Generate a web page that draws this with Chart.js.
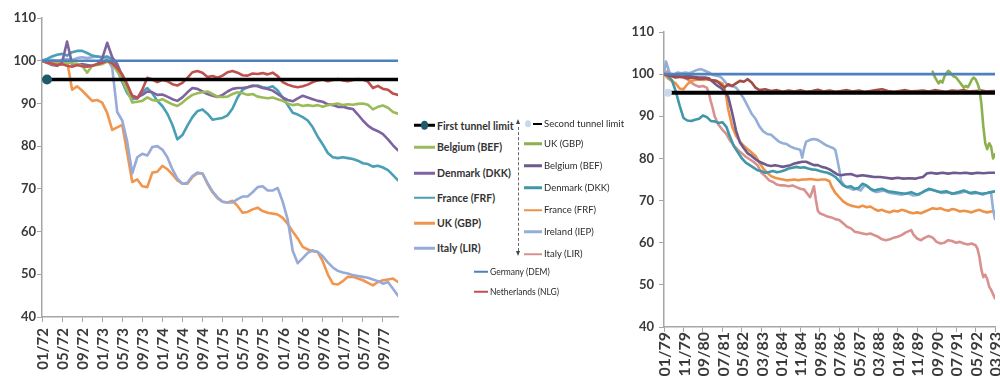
<!DOCTYPE html>
<html>
<head>
<meta charset="utf-8">
<script src="https://cdn.jsdelivr.net/npm/chart.js@4.4.1/dist/chart.umd.min.js"></script>
<style>
  html, body { margin: 0; padding: 0; background: #fff; width: 1000px; height: 377px; overflow: hidden; font-family: Lato, "Open Sans", sans-serif; }
  canvas { position: absolute; top: 0; }
  #snake { left: 0; }
  #erm { left: 620px; }
  .item { position: absolute; white-space: nowrap; line-height: 1; transform: translateY(-50%); display: flex; align-items: center; }
  .sw { display: inline-block; position: relative; }
  .lbl { margin-left: 2px; }
  .big { font-weight: bold; font-size: 10.5px; color: #333; }
  .mid { font-size: 9.5px; color: #2a2a2a; }
  .small { font-size: 8.5px; color: #2a2a2a; }
  .dash { position: absolute; left: 518px; top: 127px; height: 124px; border-left: 1px dashed #666; }
  .arrUp { position: absolute; left: 516px; top: 119px; width: 0; height: 0; border-left: 2.5px solid transparent; border-right: 2.5px solid transparent; border-bottom: 5px solid #444; }
  .arrDn { position: absolute; left: 516px; top: 251px; width: 0; height: 0; border-left: 2.5px solid transparent; border-right: 2.5px solid transparent; border-top: 5px solid #444; }
</style>
</head>
<body>
<canvas id="snake" width="410" height="377"></canvas>
<canvas id="erm" width="380" height="377"></canvas>
<div id="legend"></div>
<script>
// ---------- Snake period, monthly index from 01/72 (0) to 12/77 (71) ----------
const snakeTicks = ['01/72','05/72','09/72','01/73','05/73','09/73','01/74','05/74','09/74','01/75','05/75','09/75','01/76','05/76','09/76','01/77','05/77','09/77'];

const snakeGermany = Array(72).fill(100);
const snakeLimit = [null].concat(Array(71).fill(95.6));

const snakeNetherlands = [100,99.6,99.3,99,99.2,98.8,98.6,99,98.7,98.6,98.8,99.2,99.5,100,99.4,98.3,96.8,94.5,91.8,91.2,93.2,96,95.6,95,95.5,95.2,94.5,94.2,94.8,96,97.3,97.6,97.2,96.2,96.4,96,96.5,97.3,97.6,97.2,96.6,96.5,97,96.9,97.1,96.8,97.2,96.4,95,94.4,94,93.8,94,94.4,95,95.4,95.6,95.2,95.5,95.7,95.4,95.2,95.5,95.7,95.6,95.1,93.6,94.1,93.4,93.2,92.3,92];

const snakeBelgium = [100,99.6,99.2,99.3,99.1,99.6,99.4,99.3,98.8,97.2,98.8,99,99.2,99.8,99.2,97.5,95.5,93,90.2,90.4,90.6,91.4,90.8,90.6,91,90.4,89.8,89.4,90.2,91.2,92,92.4,92.6,92.8,92.2,91.6,91.5,91.6,92.2,92.6,92.4,92,92.2,91.6,91.4,91.2,91.4,91,90.6,90,89.6,89.8,89.4,89.6,89.4,89.6,89.2,89.6,89.8,90,89.6,89.8,89.7,89.9,90,89.7,88.6,89.2,89.5,89,88,87.6];

const snakeDenmark = [100,99.5,99,98.8,99.5,104.5,99.2,99,99.2,99,98.8,99.2,100.5,104.2,100.8,99.2,96.5,93.5,91.8,91.4,92,92.8,92.6,92,92.1,91.6,91,90.6,91.4,92.6,93.6,93.4,92.8,92.2,91.8,91.5,92,92.8,93.4,93.6,93.6,93.8,94.2,94,93.6,93.4,93,92.2,91.4,90.8,90.5,91.2,91.8,91.4,91,90.6,90.4,89.8,89.6,89.2,89.2,88.9,88.7,87.4,86,84.8,84,83.5,82.8,81.6,80.2,79];

const snakeFrance = [100,100.4,101,101.4,101.6,101.2,102,102.3,102.3,101.8,101.2,101,100.8,101,100.3,98,95,92.4,91,91.2,92.6,93.6,92.4,90.6,89.4,87.6,85,81.6,82.6,84.8,86.8,88.2,88.6,87.6,86.2,86.4,86.6,87.2,88.8,91.4,93.2,93.8,94,94.2,93.8,93.6,94,93,91.4,89.6,87.8,87.4,86.8,86,84.4,82.2,80.4,78.4,77.4,77.2,77.4,77.2,77,76.6,76,75.8,75.2,75.4,75,74.4,73.2,72];

const snakeUK = [100,99.6,99.8,99.6,99.8,100,93.2,94,93,91.8,90.6,90.8,90.2,87.8,83.8,84.4,85,78.4,71.6,72.2,70.6,70.4,73.8,74,75.4,74.6,73.4,72,71.2,71.2,72.8,73.6,73.6,71.2,69.2,67.8,67,66.8,67.2,66,64.4,64.6,65.2,65.6,64.8,64.4,64.2,64,63.2,61.8,60,58.4,56.4,55.8,55.4,55.2,53,50,47.8,47.6,48.4,49.4,49.4,49,48.6,48,47.4,48.2,48.6,48.8,49,48.2];

const snakeItaly = [100,99.8,100.2,100,100.2,100.4,100.2,100.6,100.8,100.6,100.8,101,100.8,100.4,98.4,88,86,81,73.6,77.4,78.2,77.8,79.8,80,79.2,77.4,74.6,72.4,71.2,71.4,73,73.8,73.6,71.4,69.4,68,67,66.8,66.8,67.6,68.2,68.2,69.2,70.4,70.6,69.6,69.6,70.2,67,62.8,55.5,52.6,53.8,55,55.6,55.2,54.2,52.8,51.6,50.8,50.4,50.2,49.8,49.6,49.4,49.2,48.8,48.4,47.8,48.2,46.6,45];

// ---------- EMS period, [month index from 01/79, value] ----------
const ermTicks = ['01/79','11/79','09/80','07/81','05/82','03/83','01/84','11/84','09/85','07/86','05/87','03/88','01/89','11/89','09/90','07/91','05/92','03/93'];

const ermGermany = [[0,100],[170,100]];
const ermLimit = [[2,95.6],[170,95.6]];

const ermNetherlands = [[0,100],[3,99.6],[6,99.2],[9,99.4],[12,99],[15,99.2],[18,98.8],[21,99],[24,98.6],[27,98.4],[29,97.6],[31,96.8],[33,97.6],[35,97.2],[37,97.8],[39,98.4],[41,98.2],[43,98.8],[45,98],[47,96.8],[49,96.2],[52,96.4],[55,96],[58,96.2],[61,95.8],[64,96.1],[67,95.9],[70,96.2],[73,95.8],[76,96],[79,96.3],[82,95.9],[85,96.1],[88,95.8],[91,96],[94,96.2],[97,95.9],[100,96.1],[103,95.8],[106,96],[109,96.2],[112,96.4],[115,96],[118,95.8],[121,96],[124,96.2],[127,95.9],[130,96],[133,96.1],[136,95.9],[139,96.2],[142,96],[145,95.8],[148,96.1],[151,96],[154,96.2],[157,95.9],[160,96],[163,96.1],[166,95.9],[170,96]];

const ermUK = [[138,100.6],[139,99.4],[140,98.6],[141,97.8],[142,98.4],[143,98],[144,99.4],[145,100.2],[146,100.8],[147,100.4],[148,99.8],[149,99.4],[150,99.2],[151,98.6],[152,98],[153,97.4],[154,96.8],[155,97.2],[156,96.9],[157,97.6],[158,98.6],[159,99.2],[160,98.8],[161,97.8],[162,96.4],[163,93],[164,87.6],[165,83.6],[166,82.2],[167,83.6],[168,82.8],[169,80],[170,81]];

const ermBelgium = [[0,100],[3,99.8],[6,99.6],[9,99.4],[12,99.6],[15,99.4],[18,99.2],[21,99.2],[23,99],[25,98.2],[27,97.4],[29,96.8],[31,96],[33,94.6],[35,90.8],[37,86.6],[39,83.8],[41,82.4],[43,81.2],[45,80.6],[47,79.8],[49,79.2],[51,78.8],[53,78.4],[55,78.2],[57,78.4],[59,78.2],[61,78],[63,78.2],[65,78.4],[67,78.8],[69,79],[71,79.2],[73,79.2],[75,78.8],[77,78.4],[79,78.4],[81,78],[83,77.8],[85,77.4],[87,76.8],[89,76.2],[91,76],[93,76.2],[96,76.3],[99,75.8],[102,76],[105,75.8],[108,75.6],[111,75.6],[114,75.4],[117,75.2],[120,75.4],[123,75.2],[126,75.3],[129,75.2],[131,75.4],[133,75.6],[135,76.4],[137,76.6],[140,76.4],[143,76.6],[146,76.4],[149,76.6],[152,76.5],[155,76.6],[158,76.4],[161,76.6],[164,76.5],[167,76.6],[170,76.6]];

const ermDenmark = [[0,100],[2,99.6],[4,98.6],[6,96],[8,92.6],[10,89.6],[12,89],[14,88.9],[16,89.2],[18,89.4],[20,90.2],[22,89.8],[24,88.9],[26,88.8],[28,88.4],[30,88.6],[32,87.5],[34,85],[36,82.8],[38,81.4],[40,80],[42,79],[44,78.4],[46,77.8],[48,77.2],[50,77],[52,76.6],[54,76.8],[56,77],[58,76.7],[60,76.9],[62,77.2],[64,77.6],[66,77.8],[68,78],[70,77.8],[72,77.9],[74,77.6],[76,77.4],[78,77.3],[80,77],[82,76.8],[84,76.6],[86,76.2],[88,75.6],[90,74.6],[92,73.6],[94,73.2],[96,73.4],[98,72.8],[100,73],[102,74],[104,73.6],[106,72.8],[108,72.4],[110,72.6],[112,72.8],[115,72.2],[118,72],[121,71.8],[124,71.6],[127,72],[130,71.4],[133,72],[136,72.8],[139,72.4],[142,72],[145,72.2],[148,71.6],[151,72],[154,72.4],[157,71.8],[160,72],[163,71.6],[166,71.8],[168,72],[170,72.2]];

const ermFrance = [[0,100],[2,99],[4,98.4],[6,97.8],[8,96.6],[10,96.4],[12,97.6],[14,98.4],[16,98.6],[18,98.8],[20,98.6],[22,98.8],[24,98.6],[26,98.4],[28,98.2],[30,97.8],[31,96.8],[32,94.6],[33,91.6],[35,87.6],[37,85.4],[39,84],[41,83],[43,82.2],[45,81.4],[47,80.6],[49,79],[51,77.6],[53,76.6],[55,75.8],[57,75.4],[59,75.2],[61,75],[63,74.8],[65,74.9],[67,75],[69,74.8],[71,75],[73,75],[75,75.1],[77,75],[79,74.9],[81,75],[83,75],[85,74.6],[86,73.4],[88,71.8],[90,70.8],[92,69.8],[94,69.2],[96,68.8],[98,68.6],[100,68.4],[102,68.8],[104,68.4],[106,68.6],[108,68],[110,67.6],[112,67.8],[114,67.4],[116,67.2],[118,67.6],[120,67.4],[122,67.8],[124,67.6],[126,67.2],[128,67],[130,67.2],[132,67],[134,67.4],[136,67.8],[138,68.2],[140,68],[142,68.2],[144,67.8],[146,67.6],[148,68],[150,67.8],[152,67.4],[154,67.6],[156,67.4],[158,67.2],[160,67.6],[162,67.8],[164,67.4],[166,67.2],[168,67.4],[170,67.4]];

const ermIreland = [[0,100],[1,103],[2,101.6],[3,100],[5,99.8],[7,100.4],[9,100.2],[11,100.4],[13,100.2],[15,100.6],[17,101],[19,101.2],[21,100.8],[23,100.4],[25,99.8],[27,99.6],[29,99.4],[31,98.4],[33,97.2],[35,97.2],[37,96.8],[39,95.6],[41,94.2],[43,92.4],[45,90.6],[47,89.4],[49,87.6],[51,86.4],[53,85.8],[55,85.6],[57,84.8],[59,84],[61,83.6],[63,83.4],[65,82.8],[67,82.4],[69,82.2],[70,82],[71,80.2],[72,82.4],[73,84],[75,84.4],[77,84.6],[79,84.4],[81,83.8],[83,83.2],[85,82.8],[87,82.4],[88,82],[89,79.8],[90,77.4],[91,74.6],[93,73.4],[95,73],[97,72.6],[99,72.8],[101,72.4],[103,73.6],[105,73.2],[107,72.4],[109,72],[111,72.2],[113,72.4],[116,71.8],[119,71.6],[122,71.4],[125,71.8],[128,71.2],[131,71.4],[134,72.4],[137,72.6],[140,72.2],[143,71.8],[146,72],[149,71.6],[152,71.8],[155,72.2],[158,71.6],[161,71.8],[164,71.4],[167,72],[168,71.8],[169,68],[170,65.6]];

const ermItaly = [[0,100],[2,100.8],[4,99.8],[6,99.6],[8,99.4],[10,99.2],[12,98.8],[14,98],[16,97.4],[18,97],[20,97.2],[22,96.8],[23,95.6],[24,93.6],[25,92],[26,90],[28,88],[30,86.8],[32,85.8],[34,84.2],[36,83],[38,82],[40,81.2],[42,80.4],[44,79.8],[46,79.2],[48,78.4],[50,76.6],[52,75.8],[54,74.8],[56,74.4],[58,73.8],[60,73.6],[62,73.6],[64,73.4],[66,73.6],[68,73.2],[70,72.8],[72,72.6],[74,71.4],[75,70.8],[76,72],[77,73.4],[78,70.2],[79,67.6],[80,67],[82,66.6],[84,66.2],[86,66],[88,65.6],[90,65.4],[92,64.6],[94,63.8],[96,63.4],[98,62.6],[100,62.4],[102,62.2],[104,62],[106,62.2],[108,61.8],[110,61.4],[112,60.8],[114,60.6],[116,60.8],[118,61.2],[120,61.4],[122,61.8],[124,62.4],[126,62.8],[127,63],[128,62],[130,61],[132,60.6],[134,61.2],[136,61.6],[138,61.2],[140,60.2],[142,59.8],[144,60],[146,60.6],[148,60.4],[150,60],[152,60.2],[154,59.8],[156,59.6],[158,59.8],[160,59.4],[161,58.6],[162,56.6],[163,53.6],[164,51.8],[165,52.4],[166,51.4],[167,49.6],[168,48.8],[169,47.8],[170,46.8]];

const yTickValues = [40, 50, 60, 70, 80, 90, 100, 110];

// ---------- styling ----------
const AXIS = '#a6a6a6';
const TICK_FONT = { family: 'Lato', weight: 'bold', size: 13 };
const LW = 2.6;

const toXY = arr => arr.map((v, i) => ({ x: i, y: v }));
const pairsXY = arr => arr.map(p => ({ x: p[0], y: p[1] }));

function line(label, data, color, width, order, extra) {
  return Object.assign({
    label, data, borderColor: color, backgroundColor: color,
    borderWidth: width, pointRadius: 0, tension: 0, order, spanGaps: false,
    borderJoinStyle: 'round', borderCapStyle: 'round'
  }, extra || {});
}

// rotated (bottom-to-top) category labels under the x axis
const vTickLabels = {
  id: 'vTickLabels',
  afterDraw(chart, args, opts) {
    const s = chart.scales.x, ctx = chart.ctx;
    ctx.save();
    ctx.font = opts.font;
    ctx.fillStyle = opts.color;
    ctx.textAlign = 'right';
    ctx.textBaseline = 'middle';
    opts.labels.forEach((t, k) => {
      const x = s.getPixelForValue(k * opts.step);
      ctx.save();
      ctx.translate(x + 1, s.top + opts.offset);
      ctx.rotate(-Math.PI / 2);
      ctx.fillText(t, 0, 0);
      ctx.restore();
    });
    ctx.restore();
  }
};

function axes(xMax, tickLabels, step, yWidth, xHeight, yPad) {
  return {
    x: {
      type: 'linear', min: 0, max: xMax,
      afterBuildTicks: s => { s.ticks = tickLabels.map((_, k) => ({ value: k * step })); },
      ticks: { display: false },
      grid: { drawOnChartArea: false, drawTicks: true, tickLength: 5, color: AXIS, lineWidth: 1 },
      border: { display: true, color: AXIS, width: 1.5 },
      afterFit: s => { s.height = xHeight; }
    },
    y: {
      type: 'linear', min: 40, max: 110,
      afterBuildTicks: s => { s.ticks = yTickValues.map(v => ({ value: v })); },
      ticks: { font: TICK_FONT, color: '#3a3a3a', padding: yPad },
      grid: { drawOnChartArea: false, drawTicks: true, tickLength: 5, color: AXIS, lineWidth: 1 },
      border: { display: true, color: AXIS, width: 1.5 },
      afterFit: s => { s.width = yWidth; }
    }
  };
}

const common = {
  responsive: false, animation: false, devicePixelRatio: 1,
  events: [],
  plugins: { legend: { display: false }, tooltip: { enabled: false } }
};

// ---------- Snake chart ----------
new Chart(document.getElementById('snake'), {
  type: 'line',
  plugins: [vTickLabels],
  data: {
    datasets: [
      line('First tunnel limit', toXY(snakeLimit), '#000', 3.4, 0,
        { pointRadius: snakeLimit.map((v, i) => i === 1 ? 5 : 0), pointBackgroundColor: '#1d5a6a', pointBorderColor: '#1d5a6a', pointBorderWidth: 0 }),
      line('Germany (DEM)', toXY(snakeGermany), '#4F81BD', 2.6, 1),
      line('Netherlands (NLG)', toXY(snakeNetherlands), '#C0504D', LW, 2),
      line('Belgium (BEF)', toXY(snakeBelgium), '#9BBB59', LW, 3),
      line('Denmark (DKK)', toXY(snakeDenmark), '#7E63A0', LW, 4),
      line('France (FRF)', toXY(snakeFrance), '#4A9FB6', LW, 5),
      line('Italy (LIR)', toXY(snakeItaly), '#97AAD8', LW, 6),
      line('UK (GBP)', toXY(snakeUK), '#F0964E', LW, 7)
    ]
  },
  options: Object.assign({}, common, {
    layout: { padding: { left: 0, right: 12, top: 18, bottom: 0 } },
    scales: axes(71, snakeTicks, 4, 42, 60, 1),
    plugins: Object.assign({}, common.plugins, {
      vTickLabels: { labels: snakeTicks, step: 4, offset: 11, font: 'bold 15px Lato', color: '#3a3a3a' }
    })
  })
});

// ---------- EMS chart ----------
new Chart(document.getElementById('erm'), {
  type: 'line',
  plugins: [vTickLabels],
  data: {
    datasets: [
      line('Second tunnel limit', pairsXY(ermLimit), '#000', 4, 0,
        { pointRadius: ermLimit.map((p, i) => i === 0 ? 4 : 0), pointBackgroundColor: '#c9d8ef', pointBorderColor: '#c9d8ef', pointBorderWidth: 0 }),
      line('Germany (DEM)', pairsXY(ermGermany), '#4F81BD', 2.6, 1),
      line('UK (GBP)', pairsXY(ermUK), '#8DB04E', LW, 2),
      line('Netherlands (NLG)', pairsXY(ermNetherlands), '#A34B45', LW, 3),
      line('Belgium (BEF)', pairsXY(ermBelgium), '#6E5A8E', LW, 4),
      line('Denmark (DKK)', pairsXY(ermDenmark), '#3F97A8', LW, 5),
      line('Ireland (IEP)', pairsXY(ermIreland), '#93AFD6', LW, 6),
      line('France (FRF)', pairsXY(ermFrance), '#EE9248', LW, 7),
      line('Italy (LIR)', pairsXY(ermItaly), '#D9918F', LW, 8)
    ]
  },
  options: Object.assign({}, common, {
    layout: { padding: { left: 0, right: 5, top: 32, bottom: 0 } },
    scales: axes(170, ermTicks, 10, 44, 50, 5),
    plugins: Object.assign({}, common.plugins, {
      vTickLabels: { labels: ermTicks, step: 10, offset: 5, font: 'bold 16px Lato', color: '#3a3a3a' }
    })
  })
});

// ---------- legend ----------
const legendNames = {
  first: ['First tunnel limit', 'Belgium (BEF)', 'Denmark (DKK)', 'France (FRF)', 'UK (GBP)', 'Italy (LIR)'],
  second: ['Second tunnel limit', 'UK (GBP)', 'Belgium (BEF)', 'Denmark (DKK)', 'France (FRF)', 'Ireland (IEP)', 'Italy (LIR)'],
  anchors: ['Germany (DEM)', 'Netherlands (NLG)']
};
const legendColors = {
  first: ['#000', '#9BBB59', '#7E63A0', '#4A9FB6', '#F0964E', '#97AAD8'],
  second: ['#000', '#8DB04E', '#6E5A8E', '#3F97A8', '#EE9248', '#93AFD6', '#D9918F'],
  anchors: ['#4F81BD', '#C0504D']
};
const legendRows = {
  first: [125.5, 147, 173, 197.5, 223, 248],
  second: [124, 143.5, 165.7, 187.7, 210, 231.7, 254],
  anchors: [272, 292]
};

const host = document.getElementById('legend');
function addItem(left, top, swW, swH, color, text, cls, marker) {
  const d = document.createElement('div');
  d.className = 'item ' + cls;
  d.style.left = left + 'px';
  d.style.top = top + 'px';
  const sw = document.createElement('span');
  sw.className = 'sw';
  sw.style.width = swW + 'px';
  sw.style.height = swH + 'px';
  sw.style.background = color;
  if (marker) {
    const m = document.createElement('span');
    m.style.cssText = 'position:absolute;border-radius:50%;background:' + marker.color + ';width:' + marker.w + 'px;height:' + marker.h + 'px;left:' + marker.x + 'px;top:' + (swH / 2 - marker.h / 2) + 'px;';
    sw.appendChild(m);
  }
  const t = document.createElement('span');
  t.className = 'lbl';
  t.textContent = text;
  d.appendChild(sw);
  d.appendChild(t);
  host.appendChild(d);
}

legendNames.first.forEach((n, k) => {
  const marker = k === 0 ? { color: '#1d5a6a', w: 7, h: 9, x: 7 } : null;
  addItem(414, legendRows.first[k], 21, k === 0 ? 3 : 2.5, legendColors.first[k], n, 'big', marker);
});
legendNames.second.forEach((n, k) => {
  if (k === 0) {
    addItem(524, legendRows.second[k], 18, 2.5, 'transparent', n, 'mid',
      { color: '#c9d8ef', w: 6, h: 7, x: 1 });
    const bar = document.createElement('div');
    bar.style.cssText = 'position:absolute;left:533px;top:' + (legendRows.second[k] - 1.25) + 'px;width:9px;height:2.5px;background:#000;';
    host.appendChild(bar);
  } else {
    addItem(524, legendRows.second[k], 18, 2.5, legendColors.second[k], n, 'mid', null);
  }
});
legendNames.anchors.forEach((n, k) => {
  addItem(474, legendRows.anchors[k], 14, 2, legendColors.anchors[k], n, 'small', null);
});

['dash', 'arrUp', 'arrDn'].forEach(c => {
  const e = document.createElement('div');
  e.className = c;
  host.appendChild(e);
});
</script>
</body>
</html>
